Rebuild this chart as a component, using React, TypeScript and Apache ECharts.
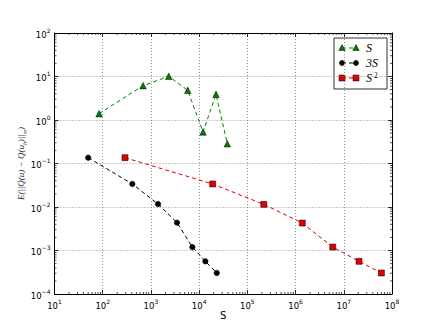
import React, { useEffect, useRef } from "react";
import * as echarts from "echarts";

const sX = [84, 686, 2340, 5800, 12050, 22400, 38400];
const sY = [1.4, 6.15, 10.1, 4.8, 0.53, 3.9, 0.285];
const s3X = [50, 411, 1403, 3475, 7230, 13460, 23200];
const s3Y = [0.136, 0.0338, 0.0117, 0.00436, 0.0012, 0.000564, 0.000304];
const s2X = [290, 19100, 219000, 1.38e6, 5.9e6, 2.07e7, 6.03e7];
const s2Y = [0.136, 0.0338, 0.0115, 0.00428, 0.0012, 0.000564, 0.000304];

const xMin = 10;
const xMax = 1e8;
const yMin = 1e-4;
const yMax = 100;

const xMinorTicks: number[] = [];
for (let k = 1; k < 8; k++) for (let m = 2; m <= 9; m++) xMinorTicks.push(m * Math.pow(10, k));
const yMinorTicks: number[] = [];
for (let k = -4; k < 2; k++) for (let m = 2; m <= 9; m++) yMinorTicks.push(m * Math.pow(10, k));

const powLabel = (v: number) => {
  const e = Math.round(Math.log10(v));
  const es = e < 0 ? "\u2212" + Math.abs(e) : String(e);
  return "{b|10}{s|" + es + "}";
};

const labelRich = {
  b: { fontSize: 8.5, fontFamily: "DejaVu Sans", color: "#000", lineHeight: 12, verticalAlign: "bottom" },
  s: { fontSize: 6, fontFamily: "DejaVu Sans", color: "#000", lineHeight: 12, verticalAlign: "top" },
};

export default function App() {
  const ref = useRef<HTMLDivElement>(null);
  useEffect(() => {
    if (!ref.current) return;
    const chart = echarts.init(ref.current, null, { renderer: "svg" });
    const gridLine = { show: true, lineStyle: { color: "#7a7a7a", width: 0.8, type: [1, 2] } };
    const axisLine = { show: true, lineStyle: { color: "#000", width: 1 } };
    const tick = { show: true, inside: true, length: 4, lineStyle: { color: "#000", width: 0.8 } };

    const minorRender = (isX: boolean) => (params: any, api: any) => {
      const cs = params.coordSys;
      const v = api.value(isX ? 0 : 1);
      const lines: any[] = [];
      const st = { stroke: "#000", lineWidth: 0.7 };
      if (isX) {
        const p = api.coord([v, yMin]);
        lines.push({ type: "line", shape: { x1: p[0], y1: cs.y + cs.height, x2: p[0], y2: cs.y + cs.height - 2 }, style: st });
        lines.push({ type: "line", shape: { x1: p[0], y1: cs.y, x2: p[0], y2: cs.y + 2 }, style: st });
      } else {
        const p = api.coord([xMin, v]);
        lines.push({ type: "line", shape: { x1: cs.x, y1: p[1], x2: cs.x + 2, y2: p[1] }, style: st });
        lines.push({ type: "line", shape: { x1: cs.x + cs.width, y1: p[1], x2: cs.x + cs.width - 2, y2: p[1] }, style: st });
      }
      return { type: "group", children: lines };
    };

    const mkSeries = (name: string, xs: number[], ys: number[], color: string, symbol: string, size: number) => ({
      name,
      type: "line",
      data: xs.map((x, i) => [x, ys[i]]),
      symbol,
      symbolSize: size,
      showAllSymbol: true,
      lineStyle: { color, width: 1, type: [4, 3] },
      itemStyle: { color, borderColor: "#000", borderWidth: 0.5 },
      z: 5,
    });

    const legendRows = [
      { label: "S", sup: "", color: "#008000", kind: "tri" },
      { label: "3S", sup: "", color: "#000000", kind: "circ" },
      { label: "S", sup: "2", color: "#e00000", kind: "sq" },
    ];
    const lx = 334, ly = 38;
    const legendChildren: any[] = [
      { type: "rect", shape: { x: lx, y: ly, width: 53, height: 51 }, style: { fill: "#fff", stroke: "#333", lineWidth: 1 } },
    ];
    legendRows.forEach((r, i) => {
      const cy = ly + 10 + i * 15;
      const x1 = lx + 8, x2 = lx + 22;
      legendChildren.push({ type: "line", shape: { x1, y1: cy, x2, y2: cy }, style: { stroke: r.color, lineWidth: 1, lineDash: [4, 3] } });
      [x1, x2].forEach((mx) => {
        if (r.kind === "tri") legendChildren.push({ type: "polygon", shape: { points: [[mx, cy - 3.5], [mx + 3.2, cy + 2.5], [mx - 3.2, cy + 2.5]] }, style: { fill: r.color, stroke: "#000", lineWidth: 0.5 } });
        else if (r.kind === "circ") legendChildren.push({ type: "circle", shape: { cx: mx, cy, r: 2.6 }, style: { fill: r.color, stroke: "#000", lineWidth: 0.5 } });
        else legendChildren.push({ type: "rect", shape: { x: mx - 3, y: cy - 3, width: 6, height: 6 }, style: { fill: r.color, stroke: "#000", lineWidth: 0.5 } });
      });
      legendChildren.push({
        type: "text", x: lx + 32, y: cy,
        style: { text: r.label, fontSize: 12, fontFamily: "Liberation Serif", fontStyle: "italic", fill: "#000", verticalAlign: "middle", align: "left" },
      });
      if (r.sup) {
        legendChildren.push({
          type: "text", x: lx + 40, y: cy - 3,
          style: { text: r.sup, fontSize: 7.5, fontFamily: "Liberation Serif", fill: "#000", verticalAlign: "middle", align: "left" },
        });
      }
    });

    chart.setOption({
      animation: false,
      backgroundColor: "#fff",
      grid: { left: 54.5, top: 33, width: 337.5, height: 261, containLabel: false },
      xAxis: [
        {
          type: "log", logBase: 10, min: xMin, max: xMax, interval: 1,
          axisLine, axisTick: tick, splitLine: gridLine,
          axisLabel: { formatter: powLabel, margin: 4, rich: labelRich },
          name: "S", nameLocation: "middle", nameGap: 16, nameMoveOverlap: false,
          nameTextStyle: { fontSize: 10, fontFamily: "DejaVu Sans", color: "#000" },
        },
        {
          type: "log", logBase: 10, min: xMin, max: xMax, interval: 1, position: "top",
          axisLine, axisTick: tick, splitLine: { show: false }, axisLabel: { show: false },
        },
      ],
      yAxis: [
        {
          type: "log", logBase: 10, min: yMin, max: yMax, interval: 1,
          axisLine, axisTick: tick, splitLine: gridLine,
          axisLabel: { formatter: powLabel, margin: 4, rich: labelRich },
          name: "{m|E(||Q(u) \u2212 Q(u}{s|h}{m|)||}{s|\u221e}{m|)}",
          nameLocation: "middle", nameGap: 27, nameRotate: 90, nameMoveOverlap: false,
          nameTextStyle: {
            rich: {
              m: { fontSize: 9, fontFamily: "Liberation Serif", fontStyle: "italic", color: "#222", lineHeight: 11, verticalAlign: "top" },
              s: { fontSize: 6, fontFamily: "Liberation Serif", fontStyle: "italic", color: "#222", lineHeight: 11, verticalAlign: "bottom" },
            },
          },
        },
        {
          type: "log", logBase: 10, min: yMin, max: yMax, interval: 1, position: "right",
          axisLine, axisTick: tick, splitLine: { show: false }, axisLabel: { show: false },
        },
      ],
      graphic: { elements: [{ type: "group", children: legendChildren, z: 100 }] },
      series: [
        mkSeries("S", sX, sY, "#008000", "triangle", 6.5),
        mkSeries("3S", s3X, s3Y, "#000000", "circle", 5.5),
        mkSeries("S2", s2X, s2Y, "#e00000", "rect", 6),
        {
          type: "custom", xAxisIndex: 0, yAxisIndex: 0, silent: true,
          data: xMinorTicks.map((v) => [v, 1]),
          renderItem: minorRender(true), z: 3,
        },
        {
          type: "custom", xAxisIndex: 0, yAxisIndex: 0, silent: true,
          data: yMinorTicks.map((v) => [xMin * 2, v]),
          renderItem: minorRender(false), z: 3,
        },
      ],
    });
    return () => chart.dispose();
  }, []);
  return <div ref={ref} style={{ width: 436, height: 327, position: "absolute", left: 0, top: 0 }} />;
}
